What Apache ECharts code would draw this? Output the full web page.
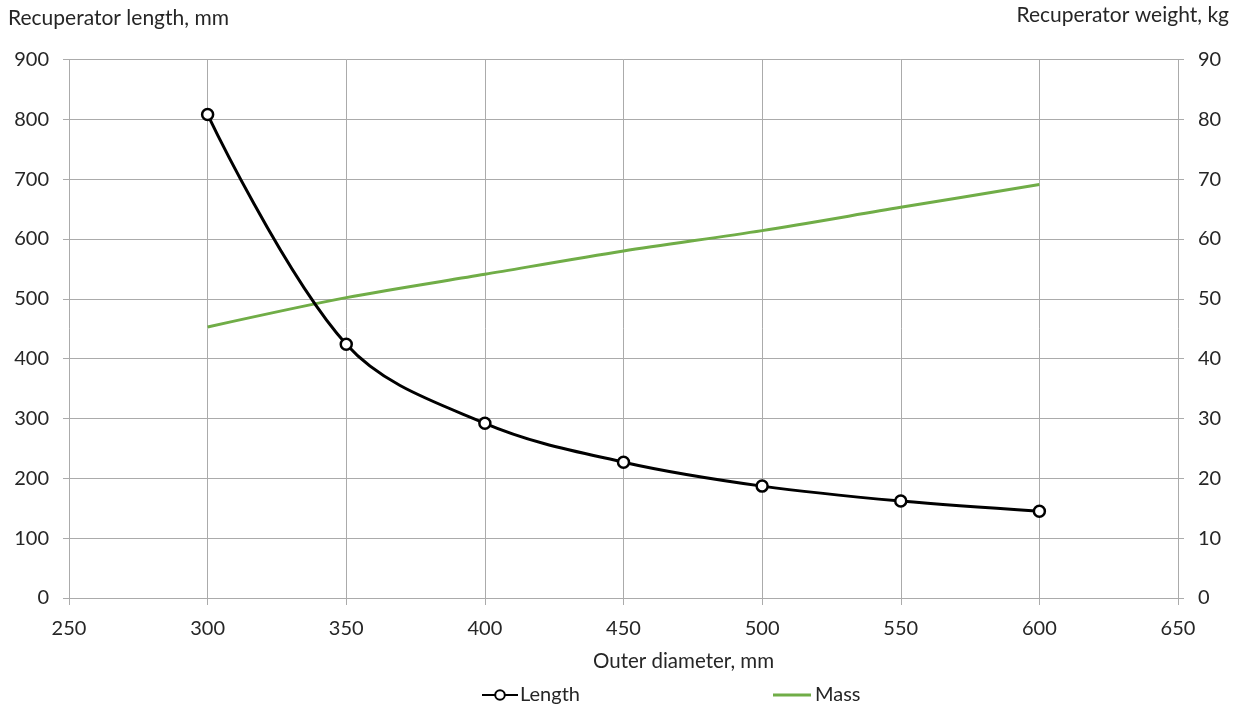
<!DOCTYPE html>
<html>
<head>
<meta charset="utf-8">
<script src="https://cdn.jsdelivr.net/npm/echarts@6/dist/echarts.min.js"></script>
<style>html,body{margin:0;padding:0;background:#fff}#c{width:1242px;height:706px}</style>
</head>
<body>
<div id="c"></div>
<script>
const diameters = [300, 350, 400, 450, 500, 550, 600];
const lengthValues = [808, 424, 292, 227, 187, 162, 145];
const massValues = [45.3, 50.2, 54.1, 58.0, 61.4, 65.3, 69.1];
const xTitle = 'Outer diameter, mm';
const yLeftTitle = 'Recuperator length, mm';
const yRightTitle = 'Recuperator weight, kg';
const seriesNames = ['Length', 'Mass'];

const FONT = 'Lato, "Open Sans", sans-serif';
const TXT = '#262626';
const GRID = '#ababab';

const chart = echarts.init(document.getElementById('c'), null, {renderer: 'canvas'});
chart.setOption({
  animation: false,
  backgroundColor: '#fff',
  textStyle: {fontFamily: FONT},
  grid: {left: 69, right: 64, top: 59.5, bottom: 108, containLabel: false},
  xAxis: {
    type: 'value', min: 250, max: 650, interval: 50,
    axisLine: {show: true, onZero: false, lineStyle: {color: GRID, width: 1}},
    axisTick: {show: true, length: 7, lineStyle: {color: GRID}},
    splitLine: {show: true, lineStyle: {color: GRID, width: 1}},
    axisLabel: {color: TXT, fontSize: 20, margin: 21, fontFamily: FONT},
    name: xTitle, nameLocation: 'middle', nameGap: 53,
    nameTextStyle: {color: TXT, fontSize: 20.5, fontFamily: FONT, padding: [0, 0, 0, 120]}
  },
  yAxis: [
    {
      type: 'value', min: 0, max: 900, interval: 100, position: 'left',
      axisLine: {show: false},
      axisTick: {show: true, length: 6, lineStyle: {color: GRID}},
      splitLine: {show: true, lineStyle: {color: GRID, width: 1}},
      axisLabel: {color: TXT, fontSize: 20, margin: 20, fontFamily: FONT}
    },
    {
      type: 'value', min: 0, max: 90, interval: 10, position: 'right',
      axisLine: {show: false},
      axisTick: {show: true, length: 6, lineStyle: {color: GRID}},
      splitLine: {show: false},
      axisLabel: {color: TXT, fontSize: 20, margin: 20, fontFamily: FONT}
    }
  ],
  legend: [
    {
      data: [seriesNames[0]], left: 476, top: 680, itemWidth: 36, itemHeight: 12,
      itemGap: 4, textStyle: {color: TXT, fontSize: 20, fontFamily: FONT, padding: [0,0,0,-3]}
    },
    {
      data: [{name: seriesNames[1], icon: 'rect'}], left: 768, top: 680, itemWidth: 38, itemHeight: 3,
      itemGap: 4, textStyle: {color: TXT, fontSize: 20, fontFamily: FONT, padding: [0,0,0,-1]}
    }
  ],
  graphic: [
    {type: 'text', left: 8, top: 8, style: {text: yLeftTitle, fill: TXT, font: '21px ' + FONT}},
    {type: 'text', right: 13, top: 5, style: {text: yRightTitle, fill: TXT, font: '21px ' + FONT}}
  ],
  series: [
    {
      name: seriesNames[0], type: 'line', yAxisIndex: 0, smooth: 0.35,
      data: diameters.map((d, i) => [d, lengthValues[i]]),
      symbol: 'circle', symbolSize: 11,
      itemStyle: {color: '#fff', borderColor: '#000', borderWidth: 2.5},
      lineStyle: {color: '#000', width: 3},
      z: 3
    },
    {
      name: seriesNames[1], type: 'line', yAxisIndex: 1, smooth: 0.3,
      data: diameters.map((d, i) => [d, massValues[i]]),
      showSymbol: false, symbol: 'none',
      itemStyle: {color: '#70ad47'},
      lineStyle: {color: '#70ad47', width: 3},
      z: 2
    }
  ]
});
</script>
</body>
</html>
